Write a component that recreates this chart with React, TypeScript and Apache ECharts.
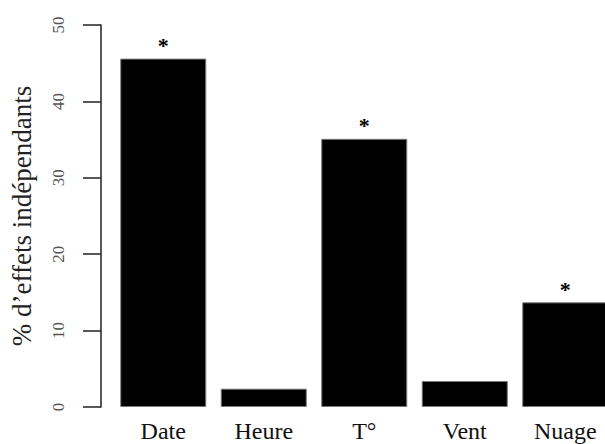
import React, { useEffect, useRef } from "react";
import * as echarts from "echarts";

const categories = ["Date", "Heure", "T°", "Vent", "Nuage"];
const values = [45.6, 2.4, 35.1, 3.4, 13.7];
const significant = [true, false, true, false, true];
const yTicks = [0, 10, 20, 30, 40, 50];
const yTitle = "% d’effets indépendants";

export default function App() {
  const ref = useRef<HTMLDivElement>(null);
  useEffect(() => {
    if (!ref.current) return;
    const chart = echarts.init(ref.current, null, { renderer: "svg" });
    const serif = "Liberation Serif";
    chart.setOption({
      animation: false,
      backgroundColor: "#ffffff",
      grid: { left: 112, top: 25, width: 503.5, bottom: 37, containLabel: false },
      xAxis: {
        type: "category",
        data: categories,
        axisLine: { show: false },
        axisTick: { show: false },
        axisLabel: { fontFamily: serif, fontSize: 24, color: "#111", margin: 12 },
      },
      yAxis: {
        type: "value",
        min: yTicks[0],
        max: yTicks[yTicks.length - 1],
        interval: 10,
        offset: 12,
        splitLine: { show: false },
        axisLine: { show: true, lineStyle: { color: "#222", width: 1.5 } },
        axisTick: { show: true, length: 18, lineStyle: { color: "#222", width: 1.5 } },
        axisLabel: { fontFamily: serif, fontSize: 17, color: "#555", rotate: 90, margin: 34 },
        name: yTitle,
        nameLocation: "middle",
        nameRotate: 90,
        nameGap: 66,
        nameTextStyle: { fontFamily: serif, fontSize: 27, color: "#222" },
      },
      series: [
        {
          type: "bar",
          barWidth: 86,
          data: values.map((v, i) => ({
            value: v,
            label: {
              show: significant[i],
              position: "top",
              formatter: "*",
              distance: 2,
              fontFamily: serif,
              fontSize: 22,
              fontWeight: "bold",
              color: "#000",
            },
          })),
          itemStyle: { color: "#000", borderColor: "#777", borderWidth: 1 },
        },
      ],
    });
    return () => chart.dispose();
  }, []);
  return (
    <div style={{ position: "absolute", left: 0, top: 0, width: 605, height: 444, overflow: "hidden", background: "#fff" }}>
      <div ref={ref} style={{ width: 620, height: 444 }} />
    </div>
  );
}
